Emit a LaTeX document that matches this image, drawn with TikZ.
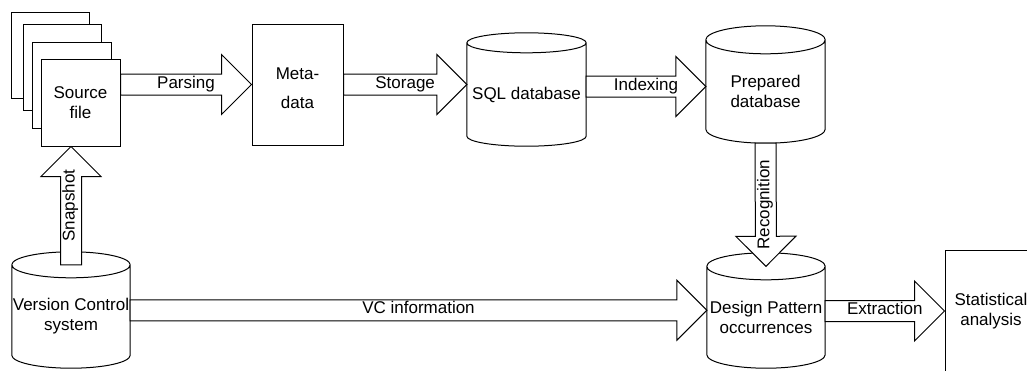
\documentclass[tikz,border=0pt]{standalone}
\usepackage{fontspec}
\setmainfont{Liberation Sans}
\usetikzlibrary{calc,backgrounds}

% outline of a database drum around a named node (node spans from the
% centre line of the lid down to the base); #2 is the lid's half height in pt
\newcommand\drumshape[2]{%
  \draw[outl] let \p1=(#1.north west), \p2=(#1.south east), \n1={(\x2-\x1)/2} in
    (\p1) -- (\x1,\y2+#2pt) arc[start angle=180,end angle=360,x radius=\n1,y radius=#2pt]
    -- (\x2,\y1) arc[start angle=0,end angle=180,x radius=\n1,y radius=#2pt] -- cycle
    (\p1) arc[start angle=180,end angle=360,x radius=\n1,y radius=#2pt];}

% broad block arrow from #2 to #3 carrying the label #4
\newcommand\fatarrow[4][]{%
  \coordinate (fa) at (#2);
  \coordinate (fb) at (#3);
  \coordinate (fh) at ($(fb)!30pt!(fa)$);
  \draw[fat] ($(fa)!10.5pt!90:(fb)$) -- ($(fh)!10.5pt!-90:(fa)$)
    -- ($(fh)!30pt!-90:(fa)$) -- (fb) -- ($(fh)!30pt!90:(fa)$)
    -- ($(fh)!10.5pt!90:(fa)$) -- ($(fa)!10.5pt!-90:(fb)$) -- cycle;
  \node[lbl,#1] at ($(fa)!.5!(fb)$) {#4};}

\tikzset{
  base/.style={line width=1pt, draw=black},
  outl/.style={base, fill=white},
  fat/.style={base, fill=white, line join=miter},
  boxnode/.style={base, fill=white, inner sep=0pt, align=center},
  drumnode/.style={inner sep=0pt, align=center},
  lbl/.style={inner sep=0pt, text height=0.716em, text depth=0pt},
}

\begin{document}
\begin{tikzpicture}[x=1pt,y=1pt,font=\fontsize{17}{20}\selectfont]
\useasboundingbox (0,0) rectangle (1027,-370);

% stack of source files
\node[boxnode, minimum width=78, minimum height=86] (p1) at (50,-55) {};
\node[boxnode, minimum width=78, minimum height=86] (p2) at (62,-67) {};
\node[boxnode, minimum width=79, minimum height=86] (p3) at (71.5,-85) {};
\node[boxnode, minimum width=79, minimum height=87] (src) at (80.5,-102.5) {Source\\file};

% meta-data box, its two lines set a little apart
\node[boxnode, minimum width=91, minimum height=121] (meta) at (297.5,-84.5) {};
\node[drumnode, font=\fontsize{17}{29}\selectfont] (metatext) at ([yshift=-4]meta.center) {Meta-\\data};

% databases
\node[drumnode, minimum width=119, minimum height=103] (sql) at (526.5,-94.5) {SQL database};
\node[drumnode, minimum width=119, minimum height=103] (prep) at (765.5,-91.5) {Prepared\\database};
\node[drumnode, minimum width=118, minimum height=101.5] (dp) at (766,-317.25) {Design Pattern\\occurrences};
\node[drumnode, minimum width=118, minimum height=103] (vc) at (71,-316.5) {Version Control\\system};

% statistical analysis box
\node[boxnode, minimum width=92, minimum height=122] (stat) at (991,-311) {Statistical\\analysis};

\begin{pgfonlayer}{background}
  \fill[white] (0,0) rectangle (1027,-370);
  \drumshape{sql}{10}
  \drumshape{prep}{14}
  \drumshape{dp}{13.5}
  \drumshape{vc}{13}
\end{pgfonlayer}

% block arrows between the stages
\fatarrow{src.east |- meta.west}{meta.west}{Parsing}
\fatarrow{meta.east}{sql.west |- meta.east}{Storage}
\coordinate (ixend) at ([yshift=5]prep.west);
\fatarrow{ixend -| sql.east}{ixend}{Indexing}
\fatarrow[rotate=90]{prep.south}{dp.north}{Recognition}
\fatarrow[rotate=90]{vc.north}{src.south -| vc.north}{Snapshot}
\coordinate (vcend) at ([yshift=7]dp.west);
\fatarrow{vcend -| vc.east}{vcend}{VC information}
\fatarrow{dp.east |- stat.west}{stat.west}{Extraction}
\end{tikzpicture}
\end{document}
